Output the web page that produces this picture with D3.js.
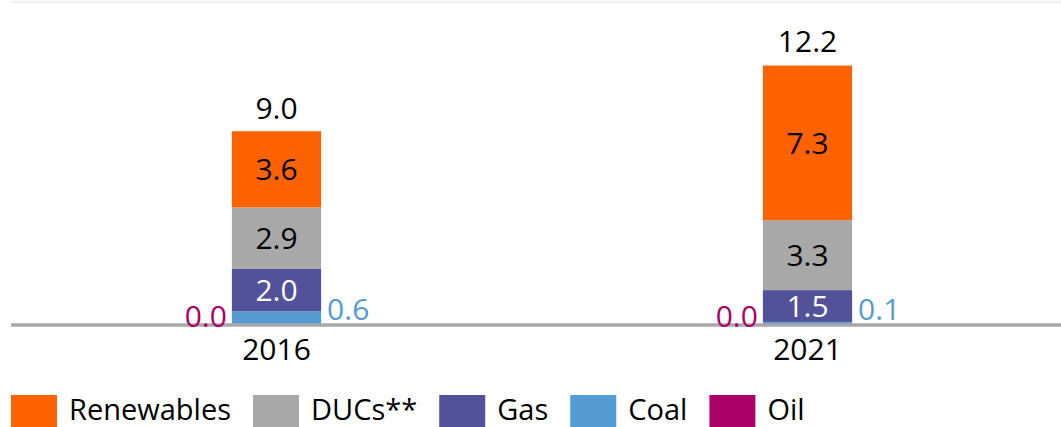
<!DOCTYPE html>
<html>
<head>
<meta charset="utf-8">
<script src="https://cdn.jsdelivr.net/npm/d3@7"></script>
<style>
  html, body { margin: 0; padding: 0; background: #fff; overflow: hidden; }
  svg { display: block; font-family: "Open Sans", sans-serif; }
</style>
</head>
<body>
<svg id="chart" width="1061" height="427"></svg>
<script>
// ---- data ----
const categories = ["2016", "2021"];
const seriesNames = ["Coal", "Gas", "DUCs**", "Renewables"];
const coal = [0.6, 0.1];
const gas = [2.0, 1.5];
const ducs = [2.9, 3.3];
const renewables = [3.6, 7.3];
const oil = [0.0, 0.0];
const totals = [9.0, 12.2];
const legendNames = ["Renewables", "DUCs**", "Gas", "Coal", "Oil"];

const colors = {
  "Renewables": "#ff6200",
  "DUCs**": "#a8a8a8",
  "Gas": "#525199",
  "Coal": "#559bd4",
  "Oil": "#ab0066"
};
const labelColors = { "Renewables": "#000", "DUCs**": "#000", "Gas": "#fff" };

const svg = d3.select("#chart");
const W = 1061, H = 427;

const x = d3.scaleBand().domain(categories).range([11, 1073])
  .paddingInner(0.832).paddingOuter(0.416);
const y = d3.scaleLinear().domain([0, 15.2]).range([324, 2]);

// top gridline
svg.append("line")
  .attr("x1", 11).attr("x2", W)
  .attr("y1", y(15.2)).attr("y2", y(15.2))
  .attr("stroke", "#f0f0f0").attr("stroke-width", 2.5);

// stacked data
const rows = categories.map((c, i) => ({
  cat: c, "Coal": coal[i], "Gas": gas[i], "DUCs**": ducs[i], "Renewables": renewables[i]
}));
const stack = d3.stack().keys(seriesNames)(rows);

const bars = svg.append("g");
const labels = svg.append("g");
stack.forEach(layer => {
  const name = layer.key;
  layer.forEach((d, i) => {
    const x0 = x(d.data.cat);
    const y0 = y(d[0]), y1 = y(d[1]);
    bars.append("rect")
      .attr("x", x0).attr("width", x.bandwidth())
      .attr("y", y1).attr("height", Math.max(0, y0 - y1))
      .attr("fill", colors[name]);
    if (labelColors[name]) {
      labels.append("text")
        .attr("x", x0 + x.bandwidth() / 2)
        .attr("y", (y0 + y1) / 2)
        .attr("dy", "0.36em")
        .attr("text-anchor", "middle")
        .attr("font-size", 30)
        .attr("fill", labelColors[name])
        .text(d3.format(".1f")(d[1] - d[0]));
    }
  });
});

// x axis line (drawn under the side labels)
bars.append("line")
  .attr("x1", 11).attr("x2", W)
  .attr("y1", y(0) + 1).attr("y2", y(0) + 1)
  .attr("stroke", "#a8a8a8").attr("stroke-width", 3.5);

// side and total labels
categories.forEach((c, i) => {
  labels.append("text")
    .attr("x", x(c) + x.bandwidth() + 6)
    .attr("y", y(0) - 4)
    .attr("font-size", 30)
    .attr("fill", colors["Coal"])
    .text(d3.format(".1f")(coal[i]));
  labels.append("text")
    .attr("x", x(c) - 5)
    .attr("y", y(0) + 3)
    .attr("text-anchor", "end")
    .attr("font-size", 30)
    .attr("fill", colors["Oil"])
    .text(d3.format(".1f")(oil[i]));
  labels.append("text")
    .attr("x", x(c) + x.bandwidth() / 2)
    .attr("y", y(totals[i]) - 14)
    .attr("text-anchor", "middle")
    .attr("font-size", 30)
    .attr("fill", "#000")
    .text(d3.format(".1f")(totals[i]));
});

// x axis labels
const xAxis = svg.append("g").attr("transform", `translate(0,${y(0)})`)
  .call(d3.axisBottom(x).tickSize(0).tickPadding(15));
xAxis.select(".domain").remove();
xAxis.selectAll("text").attr("font-size", 30).attr("fill", "#000")
  .attr("font-family", "Open Sans, sans-serif");

// legend
const lg = svg.append("g");
let lx = 11;
legendNames.forEach(name => {
  lg.append("rect").attr("x", lx).attr("y", 395).attr("width", 46).attr("height", 46)
    .attr("fill", colors[name]);
  const t = lg.append("text").attr("x", lx + 58).attr("y", 420)
    .attr("font-size", 29).attr("fill", "#000").text(name);
  lx += 58 + t.node().getComputedTextLength() + 22;
});
</script>
</body>
</html>
